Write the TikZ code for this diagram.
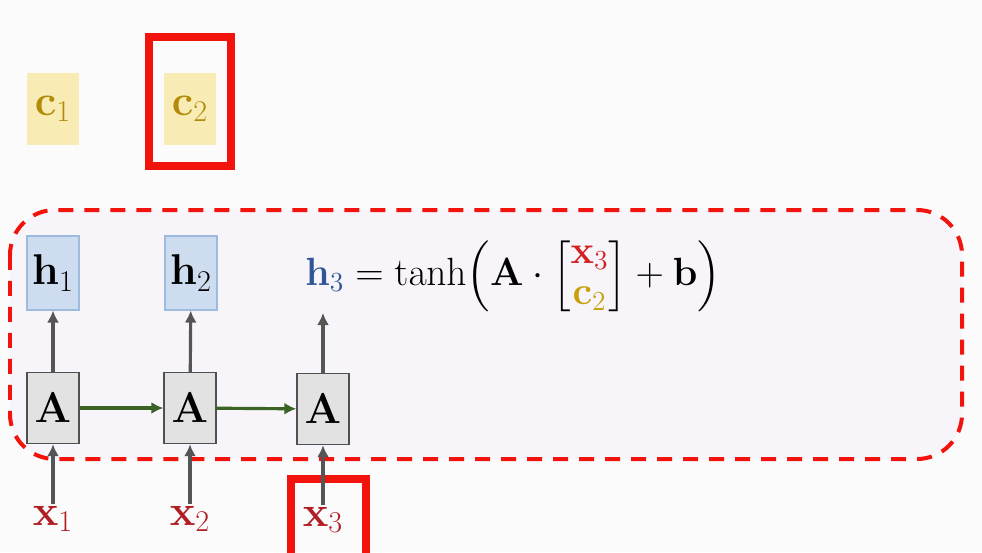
\documentclass[tikz,border=0pt]{standalone}
\usepackage{fix-cm}
\usepackage{amsmath, amssymb}
\usepackage{xcolor}
\usetikzlibrary{positioning, arrows.meta}

\definecolor{pagebg}{HTML}{FBFBFC}
\definecolor{zonebg}{HTML}{F7F4FA}
\definecolor{hlred}{HTML}{F2140C}
\definecolor{cfill}{HTML}{F9EBB4}
\definecolor{cgold}{HTML}{B38B0A}
\definecolor{eqgold}{HTML}{C9A00A}
\definecolor{hfill}{HTML}{CDDDEF}
\definecolor{hdraw}{HTML}{9DBBDC}
\definecolor{hblue}{HTML}{2F5597}
\definecolor{afill}{HTML}{E2E2E2}
\definecolor{adraw}{HTML}{505050}
\definecolor{agray}{HTML}{555555}
\definecolor{agreen}{HTML}{3B6324}
\definecolor{xred}{HTML}{B01E23}
\definecolor{eqred}{HTML}{D42020}

\newcommand{\diagfont}{\fontsize{24.5}{29}\selectfont}
\newcommand{\eqfont}{\fontsize{22.4}{27}\selectfont}

\begin{document}
\begin{tikzpicture}[>={Latex[length=0.24cm,width=0.24cm]}, x=0.02cm, y=-0.02cm,
    every node/.style={font=\diagfont},
    cbox/.style={fill=cfill, text=cgold, minimum width=1.04cm, minimum height=1.44cm, inner sep=0pt},
    hbox/.style={fill=hfill, draw=hdraw, line width=0.6pt, minimum width=1.04cm, minimum height=1.48cm, inner sep=0pt},
    abox/.style={fill=afill, draw=adraw, line width=0.8pt, minimum width=1.04cm, minimum height=1.42cm, inner sep=0pt},
    xlabel/.style={text=xred, inner sep=1pt},
    uparrow/.style={->, draw=agray, line width=1.8pt},
    rightarrow/.style={->, draw=agreen, line width=1.8pt},
    hilite/.style={draw=hlred, line width=0.16cm}]
    % Fond et cadre
    \fill[pagebg] (0,0) rectangle (982,552);
    \useasboundingbox (0,0) rectangle (982,552);
    \draw[hlred, fill=zonebg, line width=0.08cm, dash pattern=on 0.3cm off 0.22cm, rounded corners=0.9cm]
        (10,210) rectangle (962,459);
    
    % Contextes
    \node[cbox] (c1) at (53,109) {$\mathbf{c}_1$};
    \node[cbox] (c2) at (190,109) {$\mathbf{c}_2$};
    \draw[hilite] (149,37) rectangle (231,166);
    
    % Etats caches
    \node[hbox] (h1) at (53,273) {$\mathbf{h}_1$};
    \node[hbox] (h2) at (191,273) {$\mathbf{h}_2$};
    
    % Cellules
    \node[abox] (A1) at (53,408) {$\mathbf{A}$};
    \node[abox] (A2) at (190,408) {$\mathbf{A}$};
    \node[abox] (A3) at (323,409) {$\mathbf{A}$};
    \coordinate (h3top) at (323,313);
    
    % Entrees
    \node[xlabel] (x1) at (53,519) {$\mathbf{x}_1$};
    \node[xlabel] (x2) at (190,519) {$\mathbf{x}_2$};
    \node[xlabel] (x3) at (323,520) {$\mathbf{x}_3$};
    \draw[hilite] (291,479) rectangle (366,560);
    
    % Formule
    \node[anchor=west, inner sep=0pt, font=\eqfont] (eq) at (305,276)
        {$\color{hblue}\mathbf{h}_3 \color{black} = \tanh\Bigl(\mathbf{A}\cdot
        \Bigl[\renewcommand{\arraystretch}{0.86}\begin{array}{@{}c@{}}\color{eqred}\mathbf{x}_3\\ \color{eqgold}\mathbf{c}_2\end{array}\Bigr]
        + \mathbf{b}\Bigr)$};
    
    % Fleches
    \draw[uparrow] (A1) -- (h1);
    \draw[uparrow] (A2) -- (h2);
    \draw[uparrow] (A3) -- (h3top);
    \draw[uparrow] (x1) -- (A1);
    \draw[uparrow] (x2) -- (A2);
    \draw[uparrow] (x3) -- (A3);
    \draw[rightarrow] (A1) -- (A2);
    \draw[rightarrow] (A2) -- (A3);
\end{tikzpicture}
\end{document}
